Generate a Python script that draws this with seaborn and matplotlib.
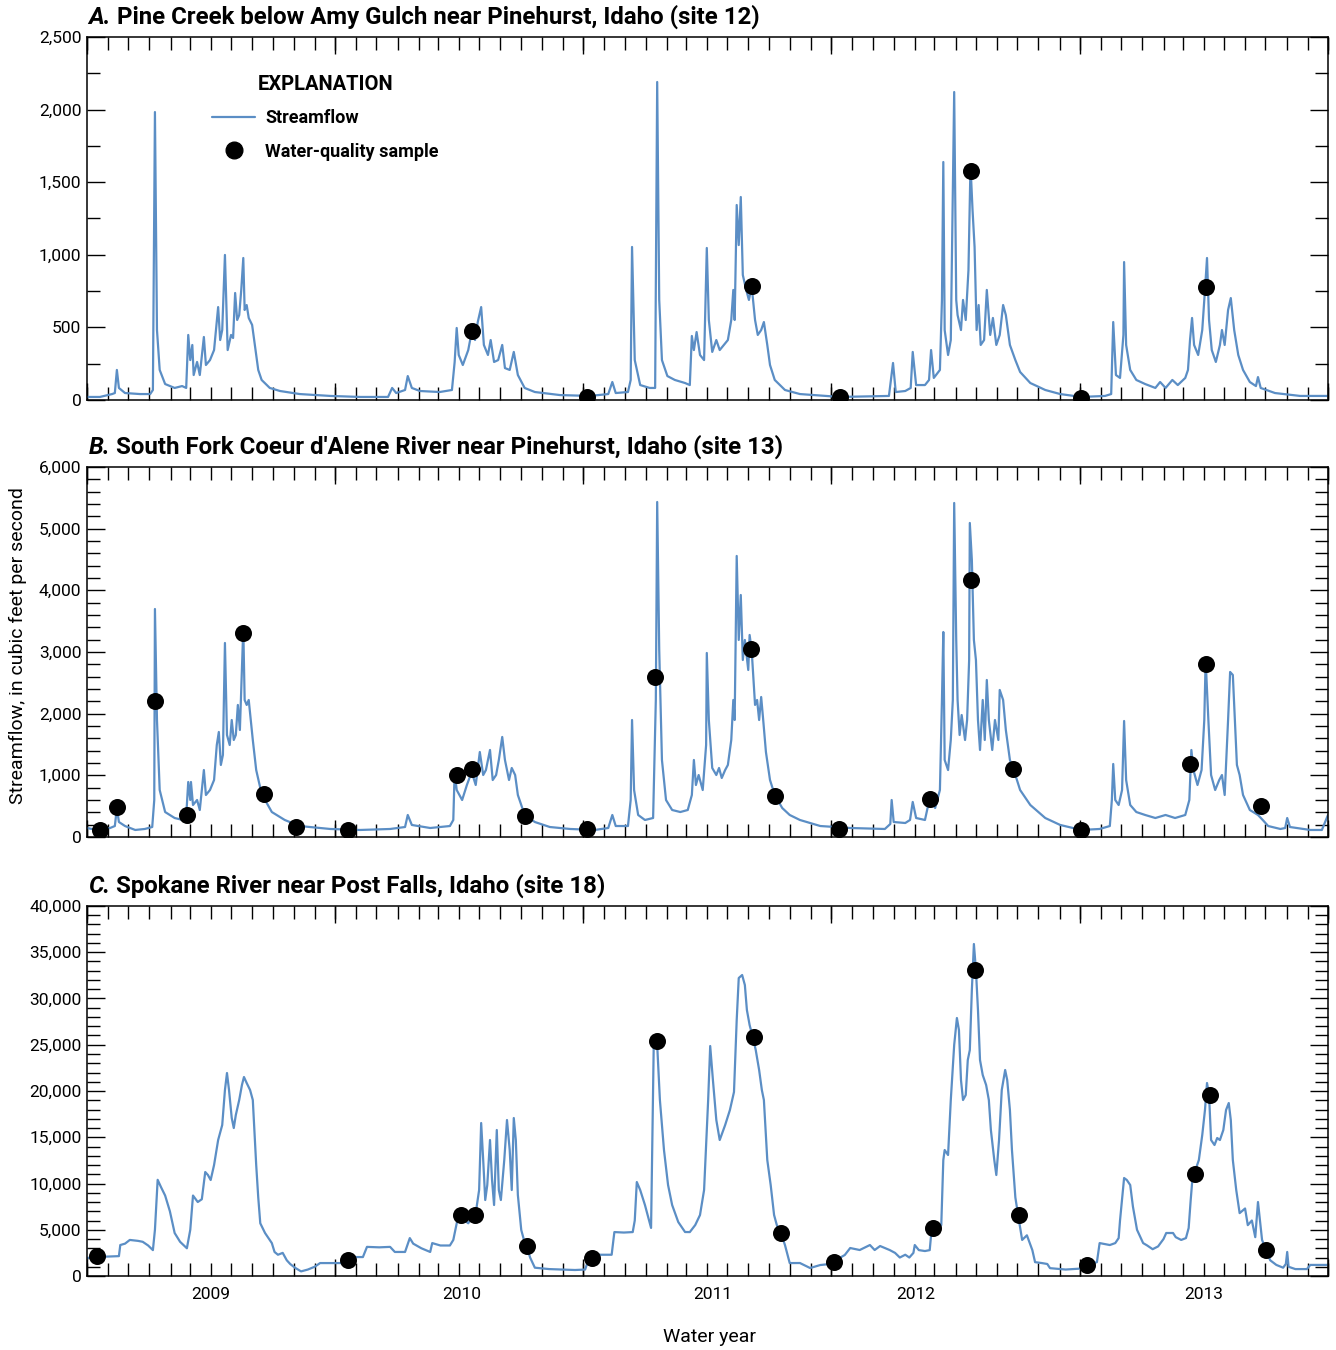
import numpy as np
import pandas as pd
import matplotlib
matplotlib.use("Agg")
import matplotlib.pyplot as plt
import matplotlib.dates as mdates
from matplotlib.ticker import FuncFormatter, MultipleLocator, NullFormatter
from matplotlib.lines import Line2D
import seaborn as sns

# Daily streamflow records, water years 2009-2013.
# Each series: (days since 1 Oct 2008, streamflow in cubic feet per second)
START = pd.Timestamp("2008-10-01")
END = pd.Timestamp("2013-10-01")

pine_creek_flow = [
    (0, 21), (19, 21), (37, 41), (41, 48), (44, 207), (47, 83), (56, 48), (78, 41), (93, 41), (97, 69),
    (100, 1983), (103, 482), (107, 207), (115, 110), (129, 83), (140, 96), (146, 83), (149, 448), (152, 275), (155, 379),
    (157, 172), (162, 262), (166, 172), (172, 434), (175, 241), (181, 275), (187, 344), (193, 640), (196, 413), (199, 482),
    (203, 999), (207, 344), (212, 448), (215, 427), (218, 737), (221, 551), (224, 585), (227, 758), (230, 978), (232, 620),
    (235, 654), (238, 565), (243, 517), (247, 379), (252, 207), (257, 138), (269, 83), (284, 62), (313, 41), (358, 28),
    (402, 21), (443, 21), (449, 83), (455, 48), (468, 69), (472, 165), (478, 83), (490, 62), (519, 55), (537, 69),
    (541, 262), (544, 496), (547, 310), (553, 241), (561, 344), (566, 468), (571, 413), (575, 537), (580, 640), (584, 379),
    (590, 310), (594, 413), (599, 262), (605, 275), (611, 379), (615, 220), (622, 207), (628, 331), (634, 172), (644, 83),
    (659, 55), (696, 34), (740, 28), (767, 41), (773, 124), (778, 48), (796, 55), (800, 138), (802, 1054), (806, 275),
    (814, 103), (828, 83), (836, 83), (839, 2190), (842, 689), (846, 275), (854, 165), (865, 138), (880, 117), (887, 103),
    (890, 441), (893, 344), (897, 468), (902, 310), (908, 275), (912, 1047), (915, 551), (920, 331), (926, 413), (931, 344),
    (937, 379), (943, 413), (948, 551), (951, 758), (953, 551), (956, 1343), (959, 1067), (962, 1398), (965, 861), (970, 758),
    (974, 689), (978, 785), (983, 551), (987, 448), (992, 482), (996, 537), (1001, 379), (1005, 241), (1012, 138), (1027, 69),
    (1049, 41), (1108, 21), (1180, 28), (1186, 255), (1190, 55), (1204, 62), (1212, 83), (1215, 331), (1220, 103), (1233, 103),
    (1239, 138), (1242, 344), (1246, 152), (1255, 207), (1258, 689), (1260, 1639), (1262, 482), (1267, 310), (1271, 413), (1276, 2121),
    (1279, 689), (1281, 585), (1286, 482), (1289, 689), (1293, 551), (1297, 895), (1300, 1618), (1303, 1309), (1306, 1054), (1309, 482),
    (1312, 654), (1315, 379), (1320, 413), (1324, 758), (1329, 448), (1333, 565), (1338, 379), (1343, 448), (1348, 654), (1352, 585),
    (1358, 379), (1366, 275), (1373, 193), (1388, 117), (1410, 69), (1432, 41), (1463, 21), (1498, 28), (1507, 41), (1510, 537),
    (1514, 172), (1520, 152), (1525, 448), (1526, 950), (1529, 379), (1535, 207), (1544, 138), (1557, 110), (1572, 83), (1579, 124),
    (1587, 83), (1597, 138), (1605, 103), (1616, 152), (1620, 207), (1623, 413), (1626, 565), (1629, 379), (1635, 310), (1641, 482),
    (1645, 758), (1648, 978), (1651, 551), (1655, 344), (1661, 262), (1667, 379), (1670, 482), (1674, 379), (1679, 620), (1683, 702),
    (1688, 482), (1694, 310), (1701, 207), (1711, 124), (1720, 96), (1723, 158), (1727, 83), (1748, 48), (1785, 28), (1826, 28),
]

south_fork_flow = [
    (0, 146), (15, 114), (34, 146), (41, 178), (44, 470), (47, 243), (56, 178), (71, 114), (85, 130), (96, 162),
    (99, 600), (100, 3697), (103, 1897), (107, 762), (115, 405), (129, 308), (141, 276), (146, 341), (149, 892), (152, 600),
    (153, 892), (156, 519), (162, 600), (166, 438), (172, 1086), (175, 681), (181, 762), (187, 924), (191, 1492), (194, 1703),
    (197, 1168), (200, 1330), (203, 3146), (206, 1654), (210, 1492), (213, 1897), (216, 1573), (219, 1654), (222, 2141), (225, 1735),
    (230, 3389), (232, 2222), (235, 2141), (238, 2222), (241, 1897), (244, 1573), (249, 1086), (255, 795), (262, 600), (272, 405),
    (291, 276), (313, 178), (358, 130), (402, 114), (446, 130), (468, 162), (472, 357), (478, 195), (505, 146), (534, 178),
    (539, 276), (541, 1054), (544, 762), (552, 600), (559, 843), (566, 1054), (572, 843), (578, 1378), (583, 1005), (587, 1086),
    (593, 1411), (597, 924), (602, 1005), (606, 1249), (611, 1622), (615, 1249), (621, 924), (625, 1119), (630, 1005), (634, 681),
    (644, 357), (659, 243), (681, 162), (711, 130), (747, 114), (767, 146), (773, 357), (778, 178), (796, 178), (800, 600),
    (802, 1897), (805, 762), (811, 357), (821, 276), (833, 308), (837, 2222), (839, 5432), (842, 3032), (846, 1249), (852, 600),
    (861, 438), (873, 405), (884, 438), (890, 681), (893, 1249), (896, 843), (900, 1005), (906, 762), (911, 1492), (912, 2984),
    (915, 1897), (920, 1119), (926, 1005), (930, 1119), (934, 957), (939, 1086), (943, 1168), (948, 1573), (951, 2222), (953, 1897),
    (956, 4557), (959, 3195), (962, 3924), (965, 2870), (968, 3195), (973, 2708), (975, 3276), (978, 3032), (983, 2141), (986, 2222),
    (989, 1897), (992, 2270), (995, 1897), (999, 1378), (1005, 924), (1012, 681), (1023, 470), (1034, 357), (1049, 276), (1079, 178),
    (1123, 146), (1174, 130), (1182, 211), (1184, 600), (1187, 243), (1204, 227), (1211, 276), (1215, 568), (1220, 308), (1233, 276),
    (1240, 632), (1248, 470), (1255, 762), (1258, 2222), (1260, 3324), (1262, 1249), (1267, 1086), (1271, 1573), (1274, 2222), (1276, 5416),
    (1279, 3195), (1281, 2222), (1284, 1654), (1287, 1978), (1292, 1573), (1295, 1897), (1298, 2870), (1299, 5092), (1302, 4492), (1305, 3195),
    (1308, 2870), (1311, 1897), (1314, 1411), (1318, 2222), (1321, 1573), (1324, 2546), (1327, 1897), (1332, 1411), (1336, 1897), (1341, 1573),
    (1343, 2384), (1348, 2222), (1352, 1735), (1358, 1249), (1366, 1005), (1373, 762), (1388, 519), (1410, 308), (1432, 195), (1463, 114),
    (1490, 130), (1505, 178), (1508, 600), (1510, 1184), (1513, 600), (1518, 519), (1523, 762), (1526, 1881), (1529, 924), (1535, 519),
    (1544, 405), (1557, 357), (1572, 308), (1587, 357), (1601, 308), (1616, 357), (1622, 600), (1625, 1411), (1628, 1086), (1634, 843),
    (1640, 1086), (1644, 1897), (1646, 2870), (1650, 1897), (1654, 1005), (1660, 762), (1666, 924), (1670, 1005), (1674, 681), (1679, 1897),
    (1682, 2676), (1686, 2627), (1689, 1897), (1692, 1168), (1696, 1005), (1701, 681), (1711, 438), (1723, 357), (1730, 276), (1738, 178),
    (1756, 130), (1763, 146), (1766, 308), (1770, 162), (1800, 114), (1817, 114), (1823, 276), (1826, 357),
]

spokane_flow = [
    (0, 1950), (12, 2050), (30, 2100), (47, 2150), (49, 3350), (56, 3500), (63, 3900), (75, 3800), (82, 3700), (90, 3300),
    (97, 2800), (100, 5000), (104, 10400), (109, 9600), (115, 8700), (122, 7000), (129, 4650), (137, 3700), (147, 3000), (152, 5000),
    (156, 8700), (163, 8000), (169, 8300), (174, 11242), (178, 10918), (182, 10378), (187, 11999), (193, 14702), (199, 16323), (203, 20107),
    (206, 21944), (209, 20107), (213, 17080), (216, 15999), (219, 17405), (224, 19026), (228, 20647), (231, 21512), (235, 20863), (240, 20107),
    (244, 19026), (249, 12000), (252, 8500), (255, 5700), (262, 4650), (272, 3560), (276, 2600), (281, 2300), (288, 2500), (294, 1700),
    (299, 1300), (306, 900), (315, 500), (325, 700), (335, 1000), (343, 1400), (383, 1400), (388, 1700), (391, 2050), (406, 2050),
    (412, 3150), (430, 3100), (446, 3150), (453, 2600), (468, 2600), (475, 4100), (480, 3500), (492, 3000), (505, 2600), (508, 3560),
    (520, 3300), (534, 3300), (539, 3900), (546, 6400), (556, 6000), (561, 5700), (566, 6300), (572, 6800), (577, 9297), (580, 16539),
    (583, 12540), (586, 8216), (589, 9837), (593, 14702), (596, 10378), (599, 7675), (603, 15783), (606, 9297), (609, 8216), (614, 12540),
    (618, 16864), (622, 13621), (625, 9297), (628, 17080), (631, 14702), (634, 8756), (639, 4973), (643, 3892), (647, 3240), (652, 2000),
    (659, 900), (680, 750), (700, 700), (718, 650), (733, 700), (738, 1800), (743, 1950), (752, 2300), (772, 2300), (776, 4750),
    (790, 4700), (803, 4750), (806, 6000), (809, 10161), (814, 9297), (821, 7675), (830, 5200), (834, 25404), (839, 24971), (843, 19026),
    (849, 13621), (855, 9837), (861, 7675), (870, 5837), (880, 4756), (887, 4750), (895, 5513), (902, 6594), (908, 9297), (914, 19026),
    (917, 24863), (921, 21188), (926, 16864), (931, 14702), (939, 16323), (946, 17945), (952, 19890), (956, 27674), (959, 32214), (964, 32538),
    (968, 31457), (971, 28755), (975, 27133), (980, 25728), (984, 24431), (989, 22269), (993, 20107), (996, 19026), (1001, 12540), (1003, 11459),
    (1006, 9837), (1011, 6594), (1015, 5513), (1021, 4650), (1027, 3351), (1034, 1400), (1049, 1405), (1064, 865), (1079, 1189), (1093, 1297),
    (1102, 1730), (1115, 2270), (1123, 3027), (1137, 2811), (1152, 3351), (1159, 2811), (1167, 3243), (1181, 2811), (1189, 2500), (1196, 2000),
    (1204, 2300), (1210, 2000), (1216, 2500), (1218, 3350), (1224, 2800), (1233, 2700), (1240, 2800), (1243, 5200), (1249, 5000), (1257, 5500),
    (1260, 12540), (1262, 13621), (1267, 13080), (1271, 19026), (1276, 24971), (1280, 27890), (1283, 26593), (1286, 21188), (1289, 19026), (1293, 19566),
    (1296, 23350), (1299, 24431), (1302, 30917), (1305, 35889), (1308, 33079), (1311, 28755), (1314, 23350), (1318, 21728), (1323, 20647), (1327, 19026),
    (1330, 15783), (1335, 12540), (1338, 10918), (1342, 14702), (1346, 20107), (1351, 22269), (1354, 21188), (1358, 17945), (1361, 13621), (1366, 8500),
    (1370, 6600), (1376, 3900), (1383, 4400), (1391, 2800), (1395, 1500), (1405, 1400), (1413, 1300), (1417, 850), (1440, 700), (1461, 800),
    (1471, 1190), (1486, 1500), (1490, 3560), (1498, 3450), (1505, 3350), (1513, 3560), (1518, 4100), (1520, 6000), (1526, 10594), (1530, 10378),
    (1535, 9837), (1539, 7500), (1545, 5000), (1554, 3560), (1560, 3300), (1568, 2900), (1576, 3200), (1584, 4000), (1588, 4650), (1598, 4650),
    (1602, 4200), (1610, 3900), (1617, 4100), (1621, 5189), (1624, 8216), (1627, 10918), (1632, 11675), (1636, 12540), (1641, 15242), (1645, 17945),
    (1648, 20863), (1651, 19566), (1654, 14702), (1659, 14161), (1663, 14918), (1667, 14702), (1672, 15783), (1676, 17945), (1680, 18701), (1683, 16864),
    (1686, 12540), (1691, 9297), (1696, 6800), (1704, 7300), (1708, 5500), (1714, 6000), (1719, 4200), (1723, 8000), (1729, 3900), (1735, 2810),
    (1741, 1700), (1750, 1200), (1760, 900), (1764, 1300), (1766, 2600), (1768, 1000), (1778, 750), (1795, 750), (1800, 1200), (1826, 1200),
]

# Water-quality samples: (days since 1 Oct 2008, streamflow at time of sample)
pine_creek_samples = [(566, 475), (736, 20), (978, 785), (1108, 20), (1301, 1575), (1463, 15), (1646, 780)]

south_fork_samples = [
    (19, 115), (44, 485), (100, 2200), (147, 355), (230, 3310), (260, 700), (308, 160), (384, 115),
    (544, 1000), (566, 1100), (644, 340), (736, 130), (836, 2600), (977, 3050), (1012, 665), (1106, 130),
    (1240, 615), (1301, 4170), (1363, 1100), (1463, 115), (1623, 1185), (1646, 2805), (1727, 505),
]

spokane_samples = [
    (15, 2160), (384, 1730), (550, 6600), (571, 6600), (647, 3240), (743, 1950), (839, 25400), (981, 25800),
    (1021, 4650), (1099, 1510), (1245, 5190), (1307, 33080), (1371, 6600), (1471, 1190), (1630, 11030),
    (1652, 19570), (1735, 2810),
]

panel_letters = ["A.", "B.", "C."]
panel_titles = [
    " Pine Creek below Amy Gulch near Pinehurst, Idaho (site 12)",
    " South Fork Coeur d'Alene River near Pinehurst, Idaho (site 13)",
    " Spokane River near Post Falls, Idaho (site 18)",
]
y_max = [2500, 6000, 40000]
y_major = [500, 1000, 5000]
y_minor = [250, 200, 1000]

# Water-year labels along the bottom axis and the dates they sit at
year_names = ["2009", "2010", "2011", "2012", "2013"]
year_label_dates = ["2009-04-01", "2010-04-05", "2011-04-10", "2012-02-02", "2013-04-01"]

LINE_COLOR = "#5b8ec5"


def to_frame(pairs):
    days = np.array([p[0] for p in pairs])
    cfs = np.array([p[1] for p in pairs], dtype=float)
    return pd.DataFrame({"date": START + pd.to_timedelta(days, unit="D"), "cfs": cfs})


sns.set_theme(style="ticks")
plt.rcParams["font.family"] = ["Roboto", "DejaVu Sans"]
plt.rcParams["text.color"] = "black"
plt.rcParams["axes.labelcolor"] = "black"
plt.rcParams["xtick.color"] = "black"
plt.rcParams["ytick.color"] = "black"
plt.rcParams["axes.linewidth"] = 1.1

fig = plt.figure(figsize=(13.36, 13.5), dpi=100)
axes_rects = [
    [0.0651, 0.7037, 0.9289, 0.2689],
    [0.0651, 0.3800, 0.9289, 0.2741],
    [0.0651, 0.0548, 0.9289, 0.2741],
]
flows = [pine_creek_flow, south_fork_flow, spokane_flow]
samples = [pine_creek_samples, south_fork_samples, spokane_samples]

axes = []
for i, rect in enumerate(axes_rects):
    ax = fig.add_axes(rect)
    axes.append(ax)
    flow_df = to_frame(flows[i])
    samp_df = to_frame(samples[i])
    sns.lineplot(data=flow_df, x="date", y="cfs", ax=ax, color=LINE_COLOR,
                 linewidth=1.6, estimator=None, sort=False, label="Streamflow", legend=False)
    sns.scatterplot(data=samp_df, x="date", y="cfs", ax=ax, color="black", s=150,
                    linewidth=0, zorder=3, label="Water-quality sample", legend=False)

    ax.set_xlim(START, END)
    ax.set_ylim(0, y_max[i])
    ax.set_xlabel("")
    ax.set_ylabel("")
    for sp in ax.spines.values():
        sp.set_visible(True)
        sp.set_color("black")
        sp.set_linewidth(1.1)

    ax.yaxis.set_major_locator(MultipleLocator(y_major[i]))
    ax.yaxis.set_minor_locator(MultipleLocator(y_minor[i]))
    ax.yaxis.set_major_formatter(FuncFormatter(lambda v, p: f"{v:,.0f}"))
    ax.tick_params(axis="y", which="major", direction="in", length=13, width=1.0,
                   left=True, right=True, labelsize=12.5, pad=4, colors="black")
    ax.tick_params(axis="y", which="minor", direction="in", length=9.5, width=1.0,
                   left=True, right=True, colors="black")

    # Monthly ticks, with longer ticks at the start of each water year
    ax.xaxis.remove_overlapping_locs = False
    ax.xaxis.set_major_locator(mdates.MonthLocator())
    ax.xaxis.set_minor_locator(mdates.MonthLocator(bymonth=10))
    ax.xaxis.set_major_formatter(NullFormatter())
    ax.xaxis.set_minor_formatter(NullFormatter())
    ax.tick_params(axis="x", which="major", direction="in", length=9.5, width=1.0,
                   top=True, bottom=True, colors="black")
    ax.tick_params(axis="x", which="minor", direction="in", length=12.5, width=1.0,
                   top=True, bottom=True, colors="black")

    # Panel heading: italic letter followed by the site name
    t1 = ax.annotate(panel_letters[i], xy=(0, 1), xycoords="axes fraction",
                     xytext=(1, 6), textcoords="offset points", color="black",
                     fontsize=17.3, fontweight="bold", fontstyle="italic", va="bottom", ha="left")
    ax.annotate(panel_titles[i], xy=(1, 0), xycoords=t1, va="bottom", ha="left",
                fontsize=17.3, fontweight="bold", color="black")

# Water-year labels under the bottom panel
for name, d in zip(year_names, year_label_dates):
    axes[2].annotate(name, xy=(mdates.date2num(pd.Timestamp(d)), 0),
                     xycoords=("data", "axes fraction"), xytext=(0, -8),
                     textcoords="offset points", ha="center", va="top",
                     fontsize=12.5, color="black")

# Explanation in the top panel
handles = [Line2D([0], [0], color=LINE_COLOR, lw=1.6),
           Line2D([0], [0], marker="o", color="black", lw=0, markersize=12)]
leg = axes[0].legend(handles, ["Streamflow", "Water-quality sample"], title="EXPLANATION",
                     loc="upper left", bbox_to_anchor=(0.0935, 0.92), frameon=False,
                     handlelength=2.4, handletextpad=0.55, labelspacing=0.85,
                     borderpad=0, prop={"weight": "bold", "size": 13},
                     title_fontproperties={"weight": "bold", "size": 14.5})
for txt in leg.get_texts():
    txt.set_color("black")
leg.get_title().set_color("black")

fig.text(0.0135, 0.522, "Streamflow, in cubic feet per second", rotation=90,
         ha="center", va="center", fontsize=14, color="black")
fig.text(0.5314, 0.0096, "Water year", ha="center", va="center", fontsize=14, color="black")

fig.savefig("out.png", dpi=100)
